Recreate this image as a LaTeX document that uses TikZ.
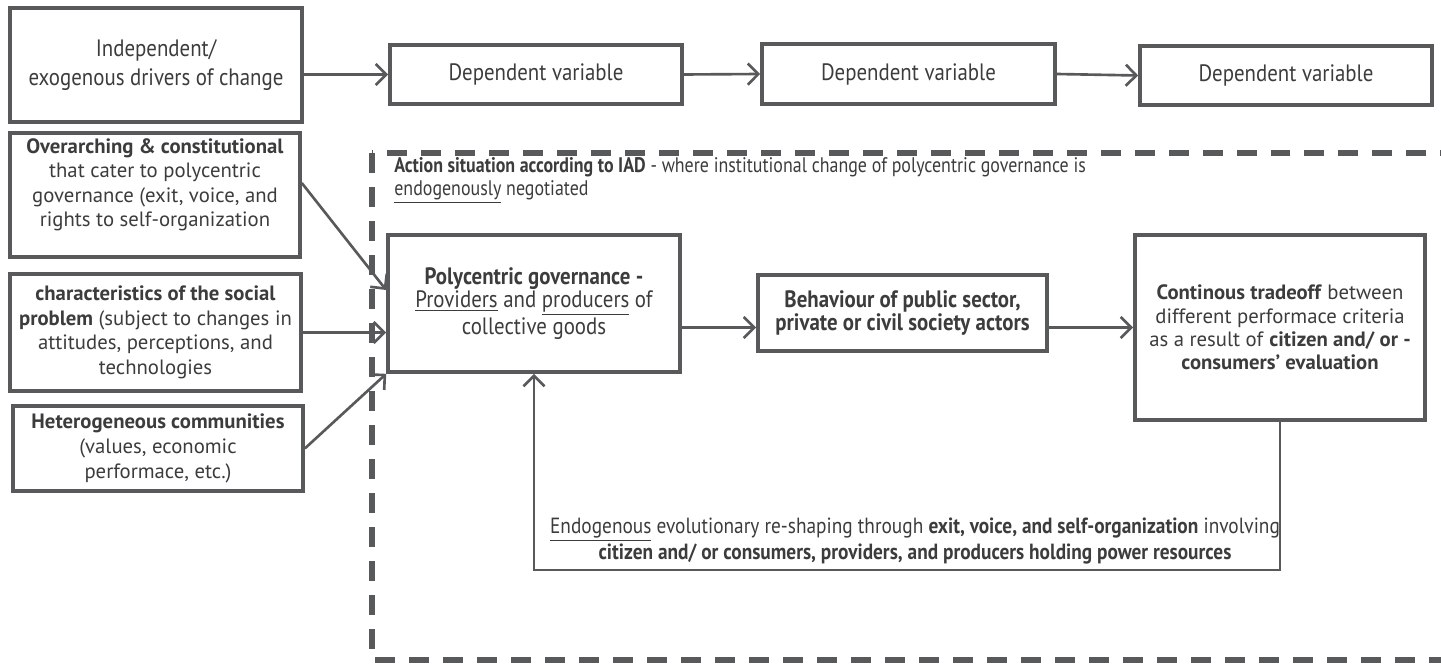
\documentclass[tikz,border=0pt]{standalone}
\usepackage{fontspec}
\setmainfont{PT Sans}
\newfontfamily\narrowfont[FakeStretch=0.88]{PT Sans}
\newfontfamily\condfont[FakeStretch=0.85]{PT Sans}
\definecolor{lineg}{HTML}{58595B}
\definecolor{textg}{HTML}{3C3C3C}
\usetikzlibrary{arrows.meta, positioning, calc}

\begin{document}
\begin{tikzpicture}[x=0.02cm, y=-0.02cm, font=\fontsize{11.8}{14}\selectfont, text=textg,
        box/.style={draw=lineg, line width=2.1pt, align=center, inner sep=2pt},
        topbox/.style={box, font=\narrowfont\fontsize{13.5}{13.2}\selectfont},
        conn/.style={draw=lineg, line width=1.5pt, -{Straight Barb[length=6pt,width=12pt]}},
        frame/.style={draw=lineg, line width=3pt, dash pattern=on 0.4cm off 0.28cm}]
        \useasboundingbox (0,0) rectangle (1441,665);
        \clip (0,0) rectangle (1441,665);

        % Top row: drivers and dependent variables
        \node[topbox, font=\narrowfont\fontsize{13.5}{16.4}\selectfont, minimum width=5.84cm, minimum height=2.28cm] (indep) at (156,65) {Independent/\\exogenous drivers of change};
        \node[topbox, minimum width=5.84cm, minimum height=1.18cm] (dep1) at (536,74.5) {Dependent variable};
        \node[topbox, minimum width=5.86cm, minimum height=1.2cm] (dep2) at (908.5,74) {Dependent variable};
        \node[topbox, minimum width=5.84cm, minimum height=1.18cm] (dep3) at (1286,75.5) {Dependent variable};
        \draw[conn] (indep.east |- dep1.west) -- (dep1.west);
        \draw[conn] (dep1.east) -- (dep2.west);
        \draw[conn] (dep2.east) -- (dep3.west);

        % Left column: exogenous drivers
        \node[box, minimum width=5.8cm, minimum height=2.48cm] (over) at (155,195) {\textbf{Overarching \& constitutional}\\that cater to polycentric\\governance (exit, voice, and\\rights to self-organization\\\mbox{}};
        \node[box, minimum width=5.82cm, minimum height=2.34cm] (char) at (155.5,332.5) {\textbf{characteristics of the social}\\\textbf{problem} (subject to changes in\\attitudes, perceptions, and\\technologies};
        \node[box, minimum width=5.8cm, minimum height=1.7cm] (hetero) at (158,448.5) {\textbf{Heterogeneous communities}\\(values, economic\\performace, etc.)};

        % Action situation (dashed frame)
        \draw[frame] (372,153) rectangle (1480,660);
        \node[anchor=north west, align=left, inner sep=0pt, font=\condfont\fontsize{12}{13.2}\selectfont] (action) at (394,157) {\textbf{Action situation according to IAD} - where institutional change of polycentric governance is\\\underline{endogenously} negotiated};

        \node[topbox, minimum width=5.84cm, minimum height=2.74cm] (poly) at (534,303.5) {\textbf{Polycentric governance -}\\\underline{Providers} and \underline{producers} of\\collective goods};
        \node[topbox, minimum width=5.78cm, minimum height=1.52cm] (behav) at (902.5,313) {\textbf{Behaviour of public sector,}\\\textbf{private or civil society actors}};
        \node[box, font=\fontsize{11.8}{13.3}\selectfont, minimum width=5.8cm, minimum height=3.7cm] (trade) at (1280,327.5) {\textbf{Continous tradeoff} between\\different performace criteria\\as a result of \textbf{citizen and/ or -}\\\textbf{consumers’ evaluation}};

        \draw[conn] ([yshift=0.24cm]over.east) -- ([yshift=0.27cm]poly.west);
        \draw[conn] (char.east) -- (char.east -| poly.west);
        \draw[conn] (hetero.east) -- (poly.south west);
        \draw[conn] (poly.east |- trade) -- (behav.west |- trade);
        \draw[conn] (behav.east |- trade) -- (trade.west);

        % Feedback loop
        \coordinate (loopbase) at (0,570);
        \node[align=center, inner sep=0pt, font=\narrowfont\fontsize{12.5}{13.2}\selectfont] (fback) at (915,541) {\underline{Endogenous} evolutionary re-shaping through \textbf{exit, voice, and self-organization} involving\\\textbf{citizen and/ or consumers, providers, and producers holding power resources}};
        \draw[conn] (trade.south) -- (trade.south |- loopbase) -- (poly.south |- loopbase) -- (poly.south);
\end{tikzpicture}
\end{document}
